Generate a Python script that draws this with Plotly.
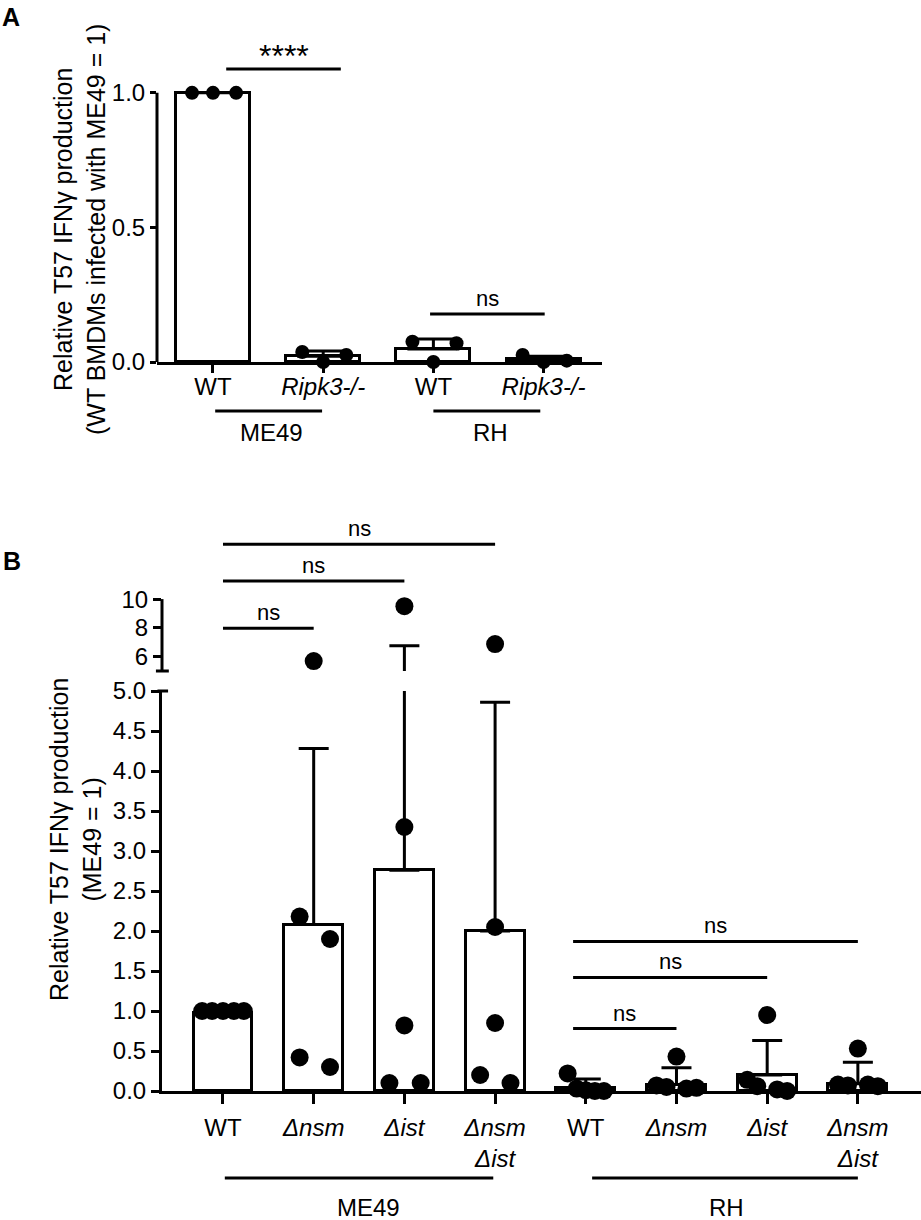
import plotly.graph_objects as go

W, H = 921, 1220
FONT = "Liberation Sans, Arial, sans-serif"

# ---------------- panel A data ----------------
a_labels = ["WT", "<i>Ripk3-/-</i>", "WT", "<i>Ripk3-/-</i>"]
a_means = [1.0, 0.021, 0.048, 0.010]
a_sd = [0.0, 0.020, 0.037, 0.011]
a_points = [
    [1.0, 1.0, 1.0],
    [0.037, 0.0, 0.026],
    [0.075, 0.0, 0.070],
    [0.026, 0.0, 0.005],
]
a_jitter = [-0.19, 0.0, 0.21]
a_groups = ["ME49", "RH"]
a_group_span = [(0.02, 0.99), (2.0, 2.97)]

# ---------------- panel B data ----------------
b_labels = ["WT", "<i>Δnsm</i>", "<i>Δist</i>", "<i>Δnsm</i><br><i>Δist</i>",
            "WT", "<i>Δnsm</i>", "<i>Δist</i>", "<i>Δnsm</i><br><i>Δist</i>"]
b_means = [0.98, 2.08, 2.76, 2.00, 0.04, 0.08, 0.20, 0.09]
b_sd = [0.0, 2.20, 3.99, 2.86, 0.11, 0.21, 0.43, 0.27]
b_points = [
    [1.0, 1.0, 1.0, 1.0, 1.0],
    [2.18, 0.42, 5.69, 1.90, 0.30],
    [0.10, 9.51, 3.30, 0.82, 0.10],
    [0.20, 6.87, 2.05, 0.85, 0.10],
    [0.22, 0.03, 0.01, 0.0, 0.0],
    [0.07, 0.05, 0.43, 0.03, 0.04],
    [0.14, 0.06, 0.95, 0.02, 0.0],
    [0.08, 0.07, 0.53, 0.08, 0.06],
]
b_jitter = [
    [-0.23, -0.12, 0.0, 0.12, 0.23],
    [-0.155, -0.155, 0.0, 0.18, 0.18],
    [-0.165, 0.0, 0.0, 0.0, 0.18],
    [-0.165, 0.0, 0.0, 0.0, 0.17],
    [-0.2, -0.1, 0.0, 0.1, 0.2],
    [-0.22, -0.11, 0.0, 0.11, 0.22],
    [-0.22, -0.11, 0.0, 0.11, 0.22],
    [-0.22, -0.11, 0.0, 0.11, 0.22],
]
b_groups = ["ME49", "RH"]
b_group_span = [(0.02, 2.98), (4.07, 7.0)]
b_group_text_x = [1.6, 5.55]

# significance brackets: (x0, x1, y, label)
a_sig = [(0.12, 1.16, 1.089, "****"), (1.97, 3.01, 0.178, "ns")]
b_sig_upper = [(0.0, 1.0, 7.98, "ns"), (0.0, 2.0, 11.25, "ns"), (0.0, 3.0, 13.82, "ns")]
b_sig_lower = [(3.86, 5.0, 0.78, "ns"), (3.86, 6.0, 1.42, "ns"), (3.86, 7.0, 1.87, "ns")]


def py(p):
    return 1 - p / H


fig = go.Figure()

# ---- A: bars + points
fig.add_trace(go.Bar(
    x=list(range(len(a_means))), y=a_means, width=0.67,
    marker=dict(color="white", line=dict(color="black", width=3)),
    error_y=dict(type="data", symmetric=False, array=a_sd, arrayminus=[0] * len(a_sd),
                 thickness=3, width=26, color="black"),
    xaxis="x", yaxis="y", showlegend=False, hoverinfo="skip"))
for i, vals in enumerate(a_points):
    fig.add_trace(go.Scatter(
        x=[i + j for j in a_jitter], y=vals, mode="markers",
        marker=dict(size=14, color="black"), cliponaxis=False,
        xaxis="x", yaxis="y", showlegend=False))

# ---- B: lower segment bars
fig.add_trace(go.Bar(
    x=list(range(len(b_means))), y=b_means, width=0.65,
    marker=dict(color="white", line=dict(color="black", width=3)),
    error_y=dict(type="data", symmetric=False, array=b_sd, arrayminus=[0] * len(b_sd),
                 thickness=3, width=15, color="black"),
    xaxis="x2", yaxis="y2", showlegend=False, hoverinfo="skip"))
# upper segment: continuation of the error bars
fig.add_trace(go.Scatter(
    x=list(range(len(b_means))), y=b_means, mode="markers",
    marker=dict(size=1, opacity=0),
    error_y=dict(type="data", symmetric=False, array=b_sd, arrayminus=[0] * len(b_sd),
                 thickness=3, width=15, color="black"),
    xaxis="x2", yaxis="y3", showlegend=False, hoverinfo="skip"))

for i, vals in enumerate(b_points):
    xs = [i + j for j in b_jitter[i]]
    lo = [(x, v) for x, v in zip(xs, vals) if v <= 5]
    hi = [(x, v) for x, v in zip(xs, vals) if v > 5]
    if lo:
        fig.add_trace(go.Scatter(
            x=[p[0] for p in lo], y=[p[1] for p in lo], mode="markers",
            marker=dict(size=18, color="black"), cliponaxis=False,
            xaxis="x2", yaxis="y2", showlegend=False))
    if hi:
        fig.add_trace(go.Scatter(
            x=[p[0] for p in hi], y=[p[1] for p in hi], mode="markers",
            marker=dict(size=18, color="black"), cliponaxis=True,
            xaxis="x2", yaxis="y3", showlegend=False))

shapes = []
annotations = []
line = dict(color="black", width=3)

# hand-drawn y axis lines (the axes extend above them for the brackets)
shapes.append(dict(type="line", xref="x domain", yref="y", x0=0, x1=0, y0=0, y1=1, line=line))
shapes.append(dict(type="line", xref="x2 domain", yref="y3", x0=0, x1=0, y0=5, y1=10, line=line))
# axis break caps
shapes.append(dict(type="line", xref="x2 domain", yref="y3 domain", x0=-0.008, x1=0.009,
                   y0=0, y1=0, line=line))
shapes.append(dict(type="line", xref="x2 domain", yref="y2 domain", x0=-0.006, x1=0.008,
                   y0=1, y1=1, line=line))

for xr, yr, sig in [("x", "y", a_sig), ("x2", "y3", b_sig_upper), ("x2", "y2", b_sig_lower)]:
    for x0, x1, y, lab in sig:
        shapes.append(dict(type="line", xref=xr, yref=yr, x0=x0, x1=x1, y0=y, y1=y, line=line))
        big = lab == "****"
        annotations.append(dict(x=(x0 + x1) / 2, y=y, xref=xr, yref=yr, text=lab,
                                showarrow=False, xanchor="center", yanchor="bottom",
                                yshift=-7 if big else 1,
                                font=dict(size=32 if big else 22, color="black", family=FONT)))


def label(x, y, text, size, xref="paper", yref="paper", angle=0):
    return dict(x=x, y=y, xref=xref, yref=yref, text=text, textangle=angle,
                showarrow=False, xanchor="center", yanchor="middle",
                font=dict(size=size, color="black", family=FONT))


# group lines + names
for (x0, x1), name in zip(a_group_span, a_groups):
    shapes.append(dict(type="line", xref="x", yref="paper", x0=x0, x1=x1,
                       y0=py(411), y1=py(411), line=line))
    annotations.append(label((x0 + x1) / 2 + 0.03, py(432), name, 24, xref="x"))
for (x0, x1), tx, name in zip(b_group_span, b_group_text_x, b_groups):
    shapes.append(dict(type="line", xref="x2", yref="paper", x0=x0, x1=x1,
                       y0=py(1178), y1=py(1178), line=line))
    annotations.append(label(tx, py(1207), name, 24, xref="x2"))

# axis titles
annotations.append(label(80 / W, py(230),
                         "Relative T57 IFNγ production<br>(WT BMDMs infected with ME49 = 1)",
                         25, angle=-90))
annotations.append(label(75 / W, py(840), "Relative T57 IFNγ production<br>(ME49 = 1)",
                         25, angle=-90))
# panel letters
annotations.append(label(11 / W, py(17), "<b>A</b>", 25))
annotations.append(label(12 / W, py(561), "<b>B</b>", 25))

tickfont = dict(size=24, color="black", family=FONT)
common = dict(showgrid=False, zeroline=False, ticks="outside", tickwidth=3,
              tickcolor="black", linecolor="black", linewidth=3, tickfont=tickfont)

fig.update_layout(
    width=W, height=H, margin=dict(l=0, r=0, t=0, b=0, autoexpand=False),
    paper_bgcolor="white", plot_bgcolor="white", bargap=0,
    font=dict(family=FONT, color="black"),
    xaxis=dict(domain=[157 / W, 602 / W], range=[-0.508, 3.53], anchor="y",
               showline=True, ticklen=8, tickvals=list(range(4)), ticktext=a_labels,
               ticklabelstandoff=-7, **common),
    yaxis=dict(domain=[py(362), py(39)], range=[0, 1.2], anchor="x", showline=False,
               ticklen=6, tickvals=[0, 0.5, 1.0], ticktext=["0.0", "0.5", "1.0"], **common),
    xaxis2=dict(domain=[162 / W, 1.0], range=[-0.6725, 7.696], anchor="y2",
                showline=True, ticklen=10, tickvals=list(range(8)), ticktext=b_labels,
                ticklabelstandoff=3, **common),
    yaxis2=dict(domain=[py(1091), py(691)], range=[0, 5], anchor="x2", showline=True,
                ticklen=8, tickvals=[k * 0.5 for k in range(11)],
                ticktext=[f"{k * 0.5:.1f}" for k in range(11)], **common),
    yaxis3=dict(domain=[py(671), py(520)], range=[5, 15.5], anchor="x2", showline=False,
                ticklen=8, tickvals=[6, 8, 10], ticktext=["6", "8", "10"], **common),
    shapes=shapes, annotations=annotations,
)

# the page's default body margin would shift the whole figure by 8 px
fig.write_html("out.html", config={"displayModeBar": False},
               post_script="document.body.style.margin = '0px';")
